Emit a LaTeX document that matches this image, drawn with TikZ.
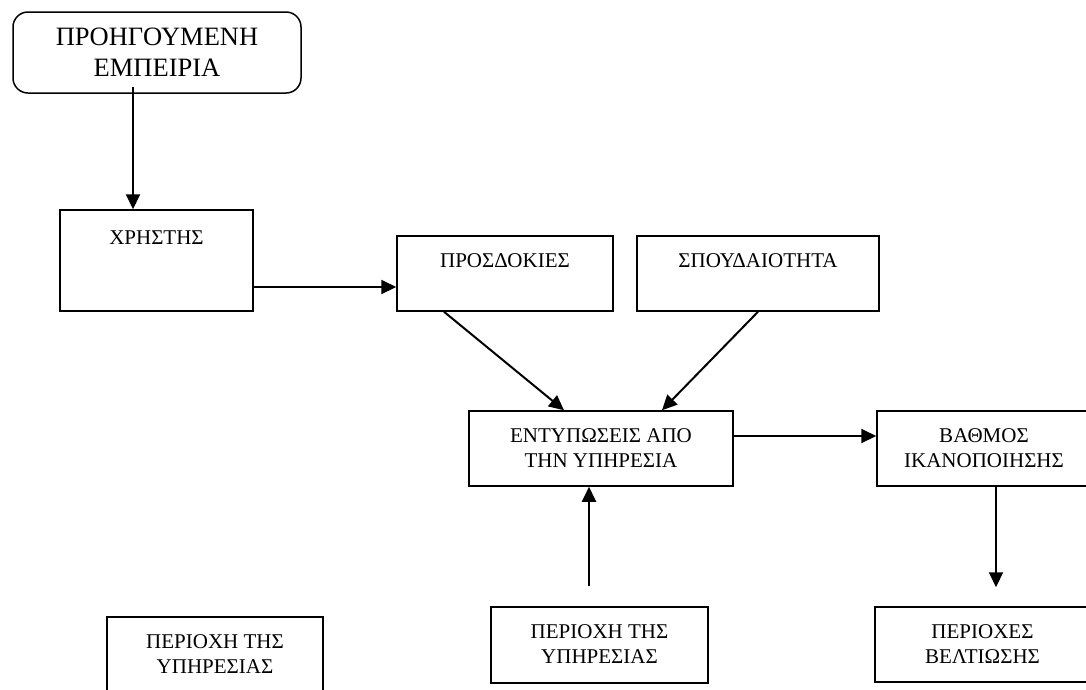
\documentclass[tikz,border=0pt]{standalone}
\usepackage{fontspec}
\setmainfont{Liberation Serif}
\usetikzlibrary{arrows.meta}
% text block hung from the top edge of a box: [first baseline]{width}{height}{lines}
\newcommand{\toplines}[4][31pt]{\parbox[c][#3][t]{#2}{\centering\rule{0pt}{#1}#4}}
\begin{document}
\begin{tikzpicture}[x=1pt,y=-1pt,
  frame/.style={draw, line width=1.5pt, inner sep=0pt, font=\fontsize{21}{25}\selectfont},
  arr/.style={line width=2pt, -{Triangle[length=15pt,width=14pt]}}]
\useasboundingbox (0,0) rectangle (1086,689);
\clip (0,0) rectangle (1086,689);

% boxes
\node[frame, rounded corners=15pt, minimum width=288pt, minimum height=81pt,
      align=center, font=\fontsize{26.5}{30.6}\selectfont]
  (prev) at (157,52.5) {ΠΡΟΗΓΟΥΜΕΝΗ\\ΕΜΠΕΙΡΙΑ};
\node[frame] (user) at (156.5,260.5) {\toplines[34pt]{193pt}{101pt}{ΧΡΗΣΤΗΣ}};
\node[frame] (expect) at (505,273.5) {\toplines{216pt}{75pt}{ΠΡΟΣΔΟΚΙΕΣ}};
\node[frame] (weight) at (758,273.5) {\toplines{242pt}{75pt}{ΣΠΟΥΔΑΙΟΤΗΤΑ}};
\node[frame] (impr) at (601,448.5) {\toplines{264pt}{75pt}{ΕΝΤΥΠΩΣΕΙΣ ΑΠΟ\\ΤΗΝ ΥΠΗΡΕΣΙΑ}};
\node[frame] (sat) at (984,448.5) {\toplines{214pt}{75pt}{ΒΑΘΜΟΣ\\ΙΚΑΝΟΠΟΙΗΣΗΣ}};
\node[frame] (improve) at (982.5,644.5) {\toplines{215pt}{75pt}{ΠΕΡΙΟΧΕΣ\\ΒΕΛΤΙΩΣΗΣ}};
\node[frame] (area) at (599.5,645) {\toplines{217pt}{76pt}{ΠΕΡΙΟΧΗ ΤΗΣ\\ΥΠΗΡΕΣΙΑΣ}};
\node[frame] (areaB) at (215,654.5) {\toplines{216pt}{75pt}{ΠΕΡΙΟΧΗ ΤΗΣ\\ΥΠΗΡΕΣΙΑΣ}};

% free ends of the connectors
\coordinate (prevOut) at ([xshift=-24pt,yshift=7pt]prev.south);
\coordinate (userOut) at ([yshift=-26.5pt]user.east);
\coordinate (imprOut) at ([yshift=12.5pt]impr.east);
\coordinate (improveIn) at ([xshift=13.5pt,yshift=19pt]improve.north);
\coordinate (areaOut) at ([xshift=-10.5pt,yshift=20pt]area.north);

% connectors
\draw[arr] (prevOut) -- (prevOut |- user.north);
\draw[arr] (userOut) -- (userOut -| expect.west);
\draw[arr] ([xshift=-61pt]expect.south) -- ([xshift=-37pt]impr.north);
\draw[arr] (weight.south) -- ([xshift=61pt]impr.north);
\draw[arr] (imprOut) -- (imprOut -| sat.west);
\draw[arr] (sat.south -| improveIn) -- (improveIn);
\draw[arr] (areaOut) -- (areaOut |- impr.south);
\end{tikzpicture}
\end{document}
